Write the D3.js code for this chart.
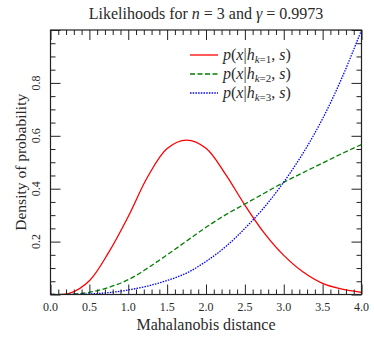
<!DOCTYPE html>
<html>
<head>
<meta charset="utf-8">
<script src="https://cdn.jsdelivr.net/npm/d3@7"></script>
<style>
  body { margin: 0; background: #fff; }
  text { font-family: "Liberation Serif", "DejaVu Serif", serif; fill: #2a2a2a; }
</style>
</head>
<body>
<div id="chart"></div>
<script>
// valeurs
var distances = [0, 0.25, 0.5, 0.75, 1.0, 1.25, 1.5, 1.75, 2.0, 2.25, 2.5, 2.75, 3.0, 3.25, 3.5, 3.75, 4.0];
var pK1 = [0, 0.005, 0.052, 0.16, 0.295, 0.445, 0.552, 0.584, 0.553, 0.455, 0.338, 0.232, 0.148, 0.085, 0.042, 0.02, 0.008];
var pK2 = [0, 0.001, 0.008, 0.027, 0.056, 0.10, 0.15, 0.202, 0.254, 0.301, 0.342, 0.383, 0.424, 0.461, 0.497, 0.533, 0.567];
var pK3 = [0, 0, 0.002, 0.007, 0.017, 0.032, 0.053, 0.081, 0.125, 0.18, 0.25, 0.33, 0.425, 0.535, 0.665, 0.82, 1.0];
var xTicks = [0, 0.5, 1.0, 1.5, 2.0, 2.5, 3.0, 3.5, 4.0];
var yTicks = [0.2, 0.4, 0.6, 0.8];
var series = [
  {k: 1, vals: pK1, couleur: "#ff0000", dash: null},
  {k: 2, vals: pK2, couleur: "#008000", dash: "5,2.5"},
  {k: 3, vals: pK3, couleur: "#0000ff", dash: "1.5,1.2"}
];

var largeur = 374, hauteur = 340;
var m = {left: 50.5, right: 12.5, top: 30, bottom: 45.5};

var svg = d3.select("#chart").append("svg").attr("width", largeur).attr("height", hauteur);

var x = d3.scaleLinear().domain([0, 4]).range([m.left, largeur - m.right]);
var y = d3.scaleLinear().domain([0, 1]).range([hauteur - m.bottom, m.top]);

// clip pour les courbes
svg.append("clipPath").attr("id", "zone").append("rect")
  .attr("x", m.left).attr("y", m.top)
  .attr("width", x(4) - m.left).attr("height", y(0) - m.top);

var ligne = d3.line().x(function(d) { return x(d[0]); }).y(function(d) { return y(Math.max(0, d[1])); })
  .curve(d3.curveCatmullRom.alpha(0.5));

var g = svg.append("g").attr("clip-path", "url(#zone)");
series.forEach(function(s) {
  var pts = distances.map(function(d, i) { return [d, s.vals[i]]; });
  g.append("path").attr("d", ligne(pts))
    .style("fill", "none").style("stroke", s.couleur).style("stroke-width", 1.3)
    .style("stroke-dasharray", s.dash);
});

// axes avec ticks vers l'interieur, majeurs et mineurs
var xMinor = d3.range(0, 4.001, 0.1).filter(function(v) { return Math.abs(v * 2 - Math.round(v * 2)) > 1e-6; });
var yMinor = d3.range(0, 1.001, 0.05).filter(function(v) { return Math.abs(v * 5 - Math.round(v * 5)) > 1e-6; });
var xMajor = xTicks;
var yMajor = [0].concat(yTicks).concat([1.0]);

function axe(gen, vals, taille, pos) {
  svg.append("g").attr("transform", pos)
    .call(gen.tickValues(vals).tickSize(-taille).tickFormat(""))
    .call(function(a) { a.select(".domain").remove(); a.selectAll("line").style("stroke", "#222"); });
}
axe(d3.axisBottom(x), xMajor, 10, "translate(0," + y(0) + ")");
axe(d3.axisBottom(x), xMinor, 5, "translate(0," + y(0) + ")");
axe(d3.axisTop(x), xMajor, 10, "translate(0," + y(1) + ")");
axe(d3.axisTop(x), xMinor, 5, "translate(0," + y(1) + ")");
axe(d3.axisLeft(y), yMajor, 10, "translate(" + x(0) + ",0)");
axe(d3.axisLeft(y), yMinor, 5, "translate(" + x(0) + ",0)");
axe(d3.axisRight(y), yMajor, 10, "translate(" + x(4) + ",0)");
axe(d3.axisRight(y), yMinor, 5, "translate(" + x(4) + ",0)");

// cadre
svg.append("rect").attr("x", x(0)).attr("y", y(1))
  .attr("width", x(4) - x(0)).attr("height", y(0) - y(1))
  .style("fill", "none").style("stroke", "#222").style("stroke-width", 1.2);

// etiquettes
svg.selectAll(".xlab").data(xTicks).enter().append("text")
  .attr("x", function(d) { return x(d); }).attr("y", y(0) + 16)
  .attr("text-anchor", "middle").style("font-size", "12px")
  .text(function(d) { return d.toFixed(1); });

svg.selectAll(".ylab").data(yTicks).enter().append("text")
  .attr("transform", function(d) { return "translate(40," + y(d) + ") rotate(-90)"; })
  .attr("text-anchor", "middle").style("font-size", "12px")
  .text(function(d) { return d.toFixed(1); });

svg.append("text").attr("x", (x(0) + x(4)) / 2).attr("y", 330)
  .attr("text-anchor", "middle").style("font-size", "16px").text("Mahalanobis distance");

svg.append("text").attr("transform", "translate(26," + (y(0) + y(1)) / 2 + ") rotate(-90)")
  .attr("text-anchor", "middle").style("font-size", "15.5px").text("Density of probability");

var titre = svg.append("text").attr("x", (x(0) + x(4)) / 2).attr("y", 19)
  .attr("text-anchor", "middle").style("font-size", "16px");
titre.append("tspan").text("Likelihoods for ");
titre.append("tspan").style("font-style", "italic").text("n");
titre.append("tspan").text(" = 3 and ");
titre.append("tspan").style("font-style", "italic").text("γ");
titre.append("tspan").text(" = 0.9973");

// legende
series.forEach(function(s, i) {
  var yy = 55 + i * 19;
  svg.append("line").attr("x1", 190).attr("x2", 218).attr("y1", yy).attr("y2", yy)
    .style("stroke", s.couleur).style("stroke-width", 1.3).style("stroke-dasharray", s.dash);
  var t = svg.append("text").attr("x", 223).attr("y", yy + 5).style("font-size", "16px");
  t.append("tspan").style("font-style", "italic").text("p");
  t.append("tspan").text("(");
  t.append("tspan").style("font-style", "italic").text("x");
  t.append("tspan").text("|");
  t.append("tspan").style("font-style", "italic").text("h");
  t.append("tspan").attr("dy", 3).style("font-size", "11px").style("font-style", "italic").text("k");
  t.append("tspan").style("font-size", "11px").text("=" + s.k);
  t.append("tspan").attr("dy", -3).text(", ");
  t.append("tspan").style("font-style", "italic").text("s");
  t.append("tspan").text(")");
});
</script>
</body>
</html>
